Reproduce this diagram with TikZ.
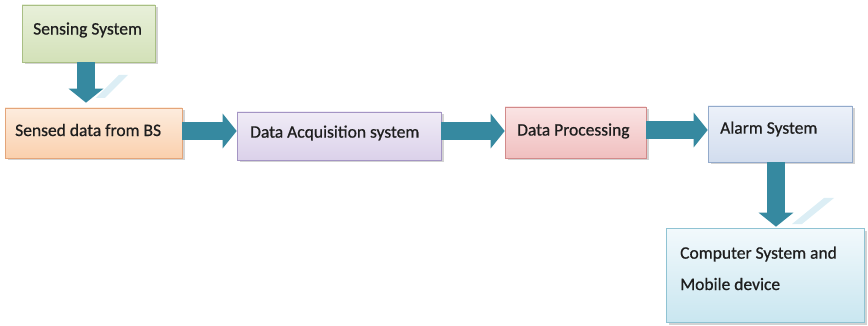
\documentclass[tikz,border=0pt]{standalone}
\usepackage{fontspec}
\setmainfont[FakeBold=0.7]{Carlito}
\usetikzlibrary{arrows.meta,shadows}

\definecolor{txt}{HTML}{1E1E1E}
\definecolor{flow}{HTML}{3689A0}
\definecolor{glow}{HTML}{BFE0EC}
% box palettes: border, top, bottom
\definecolor{grnB}{HTML}{A9BF84}\definecolor{grnT}{HTML}{E8F0DA}\definecolor{grnD}{HTML}{D3E1B8}
\definecolor{orgB}{HTML}{E4A579}\definecolor{orgT}{HTML}{FDECDE}\definecolor{orgD}{HTML}{FAD0AD}
\definecolor{lavB}{HTML}{A495C4}\definecolor{lavT}{HTML}{F0ECF6}\definecolor{lavD}{HTML}{DBD1EA}
\definecolor{pnkB}{HTML}{D28A8A}\definecolor{pnkT}{HTML}{FAE4E4}\definecolor{pnkD}{HTML}{F0BFBF}
\definecolor{bluB}{HTML}{93AACB}\definecolor{bluT}{HTML}{ECF1F9}\definecolor{bluD}{HTML}{D2DDEE}
\definecolor{cynB}{HTML}{8FC3D3}\definecolor{cynT}{HTML}{F2F9FC}\definecolor{cynD}{HTML}{C9E6F0}

\tikzset{
  blockbox/.style n args={3}{draw=#1, top color=#2, bottom color=#3,
    line width=0.6pt, inner sep=0pt,
    drop shadow={shadow xshift=2.5pt, shadow yshift=-2.5pt, opacity=0.35}},
  boxlabel/.style={anchor=west, inner sep=0pt, text=txt, font=\fontsize{17.5}{20}\selectfont},
  flowarrow/.style={draw=flow, line width=18pt,
    -{Triangle[length=14pt, width=34pt]}},
  glowband/.style={fill=glow, opacity=0.55}
}

\begin{document}
\begin{tikzpicture}[x=1pt, y=-1pt]
  \useasboundingbox (0,0) rectangle (868,326);

  % faint reflections beside the downward arrows
  \fill[glowband] (96,98) -- (105,98) -- (128,75) -- (119,75) -- cycle;
  \fill[glowband] (792,224) -- (802,224) -- (834,198) -- (824,198) -- cycle;

  % boxes
  \node[blockbox={grnB}{grnT}{grnD}, minimum width=133pt, minimum height=57pt] (sensing) at (88.5,33.5) {};
  \node[blockbox={orgB}{orgT}{orgD}, minimum width=177pt, minimum height=50pt] (sensed) at (93.5,133) {};
  \node[blockbox={lavB}{lavT}{lavD}, minimum width=204pt, minimum height=48pt] (acq) at (339,136) {};
  \node[blockbox={pnkB}{pnkT}{pnkD}, minimum width=141pt, minimum height=51pt] (proc) at (575.5,132.5) {};
  \node[blockbox={bluB}{bluT}{bluD}, minimum width=144pt, minimum height=56pt] (alarm) at (780,134) {};
  \node[blockbox={cynB}{cynT}{cynD}, minimum width=198pt, minimum height=94pt] (comp) at (765,275) {};

  % box texts
  \node[boxlabel] (tsensing) at (33,30) {Sensing System};
  \node[boxlabel] (tsensed) at (15,130) {Sensed data from BS};
  \node[boxlabel] (tacq) at (250,133) {Data Acquisition system};
  \node[boxlabel] (tproc) at (517,131) {Data Processing};
  \node[boxlabel] (talarm) at (720,129) {Alarm System};
  \node[boxlabel] (tcomp1) at (680,254) {Computer System and};
  \node[boxlabel] (tcomp2) at (680,284) {Mobile device};

  % flow arrows
  \draw[flowarrow, shorten >=5pt] ([xshift=-2.5pt]sensing.south) -- ([xshift=-2.5pt]sensed.north -| sensing.south);
  \draw[flowarrow] (sensed.east |- 0,131) -- (acq.west |- 0,131);
  \draw[flowarrow] (acq.east |- 0,131) -- (proc.west |- 0,131);
  \draw[flowarrow] (proc.east |- 0,130) -- (alarm.west |- 0,130);
  \draw[flowarrow, shorten >=1pt] ([xshift=-4pt]alarm.south) -- ([xshift=-4pt]comp.north -| alarm.south);
\end{tikzpicture}
\end{document}
